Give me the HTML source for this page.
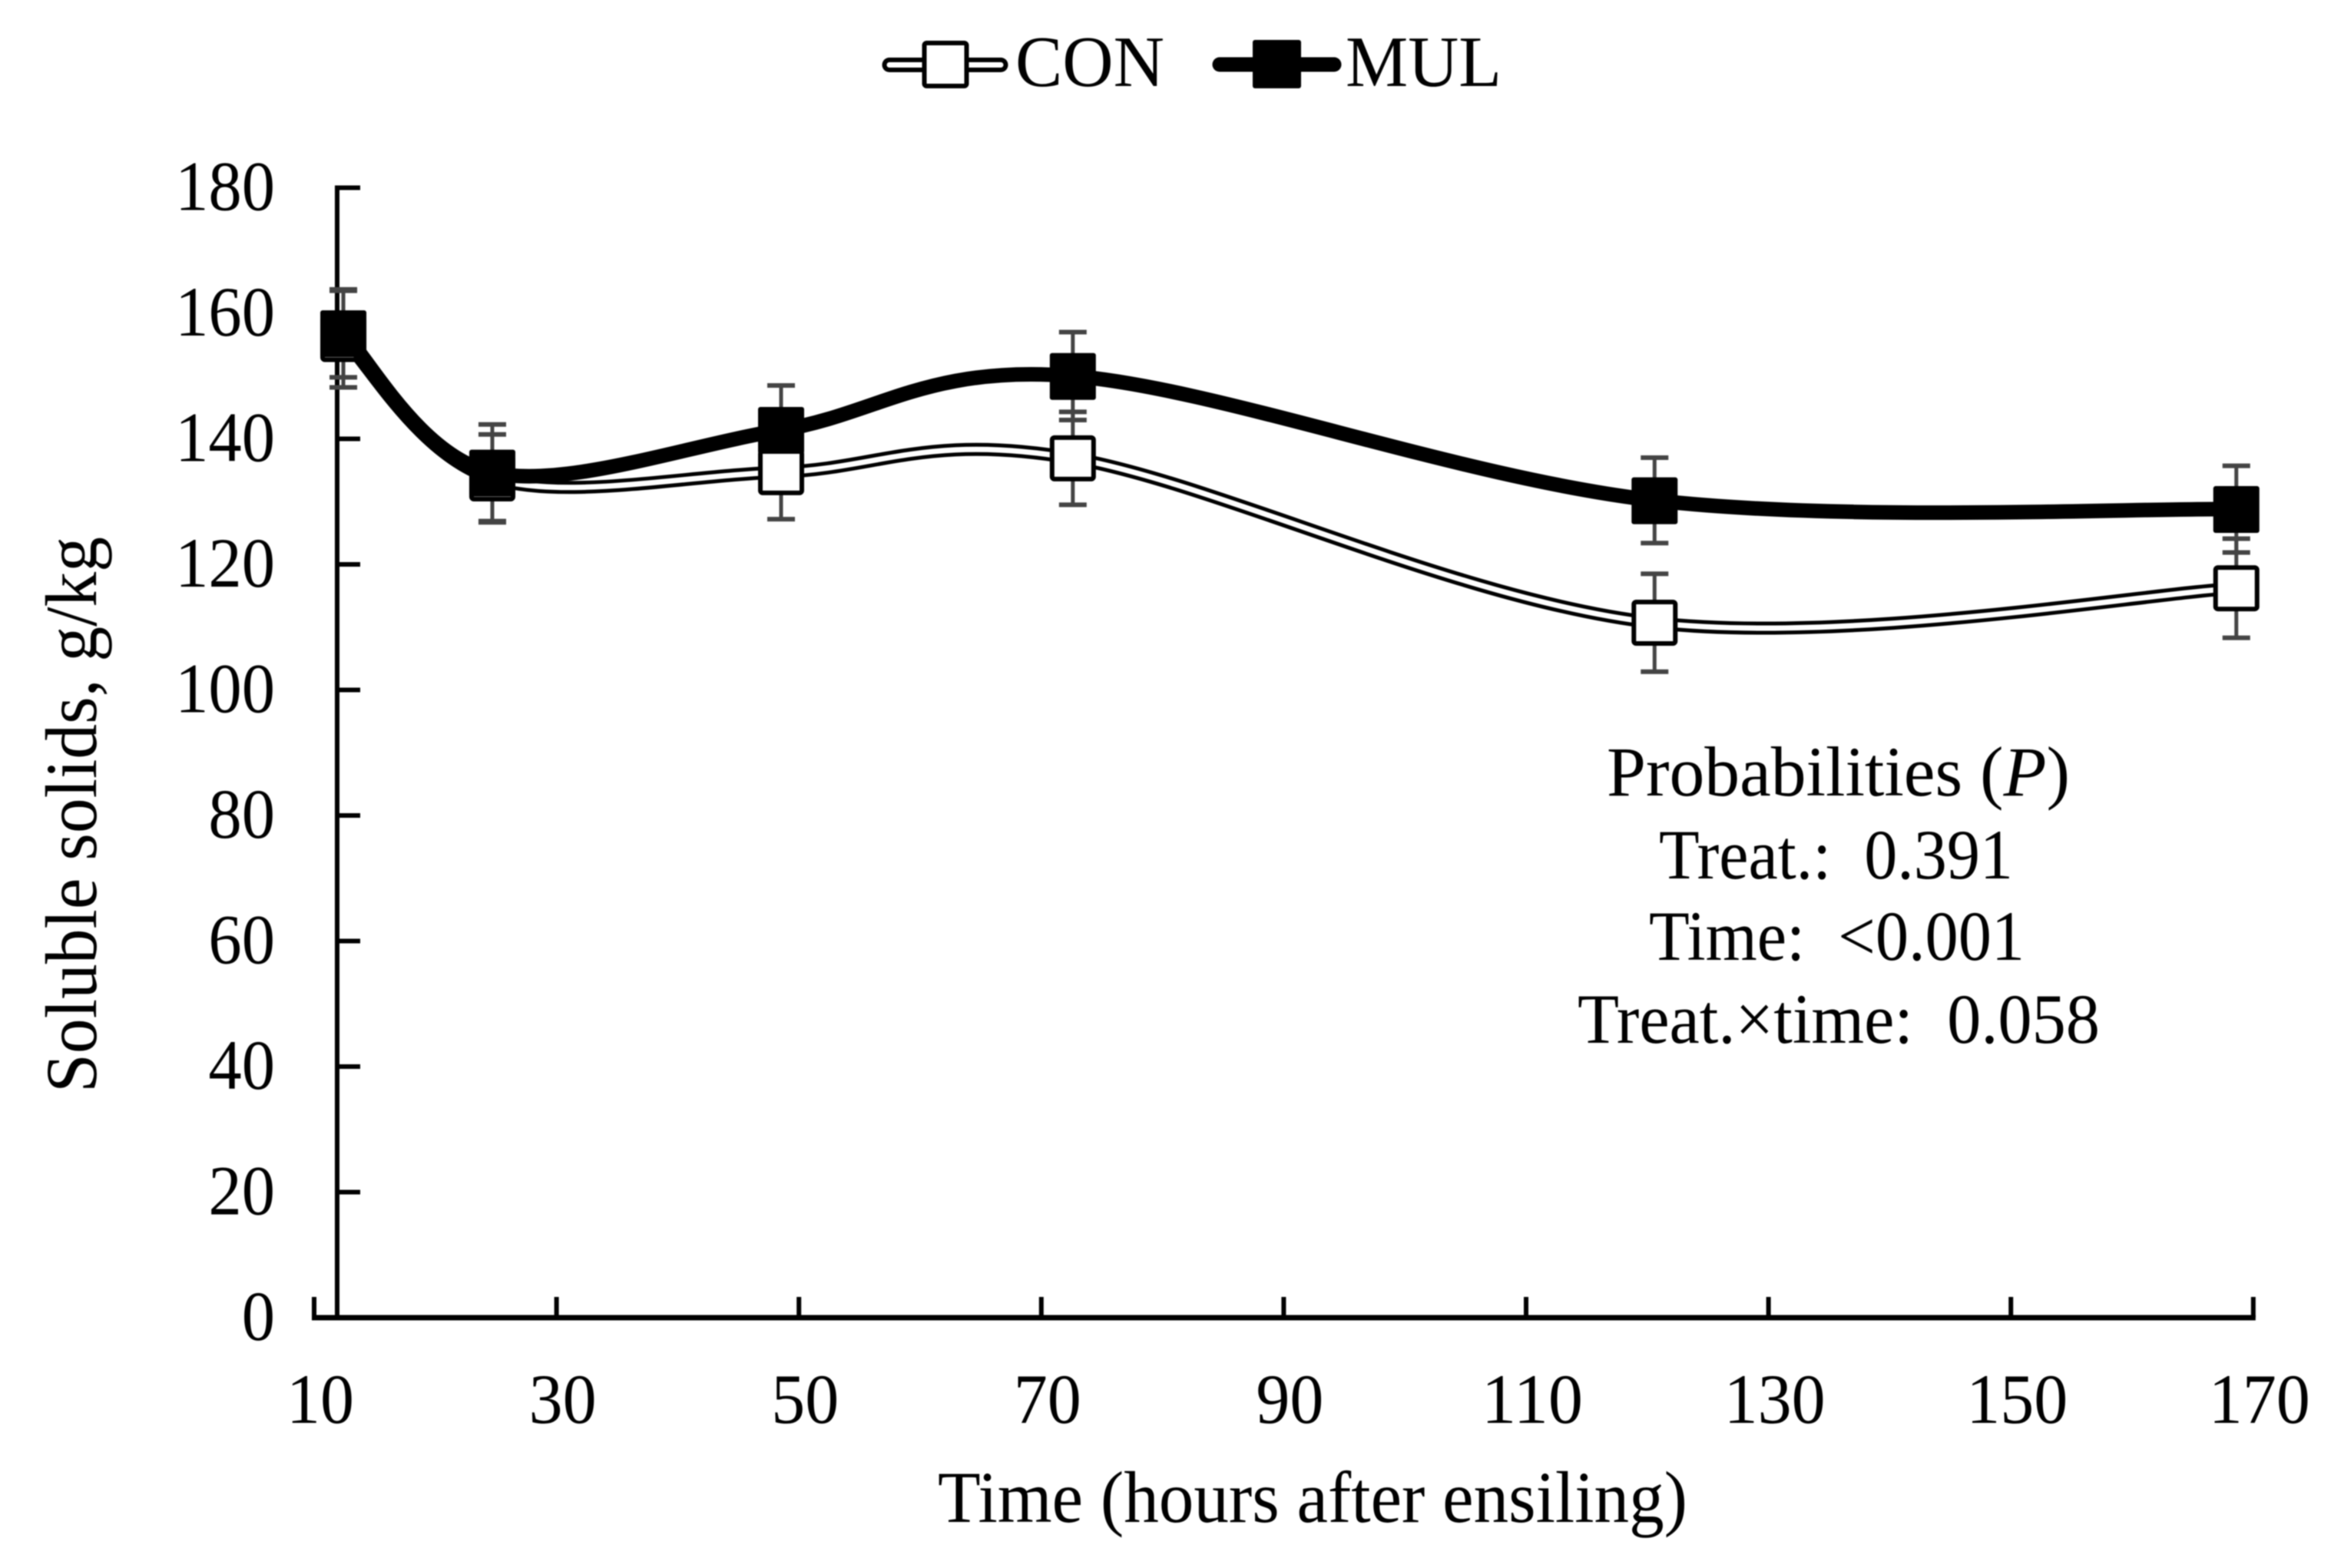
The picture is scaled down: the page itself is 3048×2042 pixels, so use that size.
<!DOCTYPE html>
<html lang="en">
<head>
<meta charset="utf-8">
<title>Soluble solids over time</title>
<style>
html,body{margin:0;padding:0;background:#fff;}
svg{display:block;filter:blur(0.7px);}
text{font-family:"Liberation Serif","Times New Roman",serif;fill:#000;font-size:92px;white-space:pre;}
</style>
</head>
<body>
<svg id="chart" xmlns="http://www.w3.org/2000/svg" width="3048" height="2042" viewBox="0 0 3048 2042">
  <rect x="0" y="0" width="3048" height="2042" fill="#fff"/>
  <g id="axes"></g>
  <g id="series"></g>

  <g>
    <g>
      <line x1="1158" y1="84.5" x2="1303" y2="84.5" stroke="#000" stroke-width="19" stroke-linecap="round"/>
      <line x1="1158" y1="84.5" x2="1303" y2="84.5" stroke="#fff" stroke-width="7" stroke-linecap="round"/>
      <rect x="1203.5" y="56" width="55" height="56" rx="3" fill="#fff" stroke="#000" stroke-width="6"/>
      <text x="1322" y="112" textLength="194" lengthAdjust="spacingAndGlyphs" style="font-size:94px">CON</text>
    </g>
    <g>
      <line x1="1588" y1="84" x2="1737" y2="84" stroke="#000" stroke-width="19" stroke-linecap="round"/>
      <rect x="1631" y="52" width="63" height="63" rx="3" fill="#000"/>
      <text x="1752" y="112" textLength="203" lengthAdjust="spacingAndGlyphs" style="font-size:94px">MUL</text>
    </g>
  </g>

  <text transform="translate(125,1423) rotate(-90)" x="0" y="0" textLength="724" lengthAdjust="spacingAndGlyphs" style="font-size:95px">Soluble solids, g/kg</text>
  <text x="1221" y="1982" textLength="976" lengthAdjust="spacingAndGlyphs" style="font-size:95px">Time (hours after ensiling)</text>

  <g>
    <text x="2092" y="1036" textLength="603" lengthAdjust="spacingAndGlyphs">Probabilities (<tspan font-style="italic">P</tspan>)</text>
    <text x="2160" y="1144" textLength="461" lengthAdjust="spacingAndGlyphs">Treat.:  0.391</text>
    <text x="2147" y="1250" textLength="489" lengthAdjust="spacingAndGlyphs">Time:  &lt;0.001</text>
    <text x="2054" y="1358" textLength="680" lengthAdjust="spacingAndGlyphs">Treat.×time:  0.058</text>
  </g>
</svg>
<script>
const hours = [12.41, 24.7, 48.53, 72.6, 120.6, 168.6];
const conValues = [155.9, 133.7, 134.7, 136.9, 110.7, 116.2];
const conErrors = [7.7, 7.0, 7.5, 7.4, 7.8, 7.9];
const mulValues = [156.8, 134.6, 141.4, 150.0, 130.2, 128.8];
const mulErrors = [7.0, 7.7, 7.1, 7.0, 6.8, 6.9];
const xTickLabels = [10, 30, 50, 70, 90, 110, 130, 150, 170];
const yTickLabels = [0, 20, 40, 60, 80, 100, 120, 140, 160, 180];

const NS = 'http://www.w3.org/2000/svg';
const axesLayer = document.getElementById('axes');
const seriesLayer = document.getElementById('series');

function xScale(v) { return 409 + (v - 10) * 15.78; }
function yScale(v) { return 1716 - v * 8.175; }

function make(tag, parent, attrs) {
  const el = document.createElementNS(NS, tag);
  Object.keys(attrs).forEach(function (k) { el.setAttribute(k, attrs[k]); });
  parent.appendChild(el);
  return el;
}

const yAxisLine = make('line', axesLayer, { x1: xScale(11.9), x2: xScale(11.9), y1: yScale(180) - 3, y2: yScale(0), stroke: '#000', 'stroke-width': 6 });



const xAxisLine = make('line', axesLayer, { x1: xScale(10) - 3, x2: xScale(170) + 3, y1: yScale(0), y2: yScale(0), stroke: '#000', 'stroke-width': 7 });



yTickLabels.forEach(function (v) {
  const tick = make('line', axesLayer, { x1: xScale(11.9), x2: xScale(11.9) + 30, y1: yScale(v), y2: yScale(v), stroke: '#000', 'stroke-width': 6 });
  
  
  const yText = String(v);
  const label = make('text', axesLayer, { x: 358, y: yScale(v) + 29, 'text-anchor': 'end', textLength: yText.length * 43.3, lengthAdjust: 'spacingAndGlyphs' });
  
  
  label.textContent = yText;
});

xTickLabels.forEach(function (v) {
  const tick = make('line', axesLayer, { x1: xScale(v), x2: xScale(v), y1: yScale(0), y2: yScale(0) - 27, stroke: '#000', 'stroke-width': 6 });
  
  
  const xText = String(v);
  const label = make('text', axesLayer, { x: xScale(v) + 8, y: 1853, 'text-anchor': 'middle', textLength: xText.length * 44, lengthAdjust: 'spacingAndGlyphs' });
  
  
  label.textContent = xText;
});

function smoothPath(values) {
  const pts = values.map(function (v, i) { return [xScale(hours[i]), yScale(v)]; });
  let d = 'M' + pts[0][0] + ' ' + pts[0][1];
  for (let i = 0; i < pts.length - 1; i++) {
    const p0 = pts[Math.max(i - 1, 0)];
    const p1 = pts[i];
    const p2 = pts[i + 1];
    const p3 = pts[Math.min(i + 2, pts.length - 1)];
    const c1x = p1[0] + (p2[0] - p0[0]) / 6;
    const c1y = p1[1] + (p2[1] - p0[1]) / 6;
    const c2x = p2[0] - (p3[0] - p1[0]) / 6;
    const c2y = p2[1] - (p3[1] - p1[1]) / 6;
    d += ' C' + c1x + ' ' + c1y + ' ' + c2x + ' ' + c2y + ' ' + p2[0] + ' ' + p2[1];
  }
  return d;
}

function drawErrors(values, errors, prefix) {
  values.forEach(function (v, i) {
    const x = xScale(hours[i]);
    const stem = make('line', seriesLayer, { x1: x, x2: x, y1: yScale(v + errors[i]), y2: yScale(v - errors[i]), stroke: '#444', 'stroke-width': 5 });
    
    
    const capTop = make('line', seriesLayer, { x1: x - 18, x2: x + 18, y1: yScale(v + errors[i]), y2: yScale(v + errors[i]), stroke: '#444', 'stroke-width': 6 });
    
    
    const capBottom = make('line', seriesLayer, { x1: x - 18, x2: x + 18, y1: yScale(v - errors[i]), y2: yScale(v - errors[i]), stroke: '#444', 'stroke-width': 6 });
    
    
  });
}

drawErrors(conValues, conErrors, 'con');
drawErrors(mulValues, mulErrors, 'mul');

const conOuter = make('path', seriesLayer, { d: smoothPath(conValues), fill: 'none', stroke: '#000', 'stroke-width': 17 });


const conInner = make('path', seriesLayer, { d: smoothPath(conValues), fill: 'none', stroke: '#fff', 'stroke-width': 7 });



conValues.forEach(function (v, i) {
  const m = make('rect', seriesLayer, { x: xScale(hours[i]) - 27, y: yScale(v) - 27, width: 54, height: 54, rx: 3, fill: '#fff', stroke: '#000', 'stroke-width': 6 });
  
  
});

const mulLine = make('path', seriesLayer, { d: smoothPath(mulValues), fill: 'none', stroke: '#000', 'stroke-width': 19 });



mulValues.forEach(function (v, i) {
  const m = make('rect', seriesLayer, { x: xScale(hours[i]) - 30, y: yScale(v) - 30, width: 60, height: 61, rx: 3, fill: '#000' });
  
  
});
</script>
</body>
</html>
